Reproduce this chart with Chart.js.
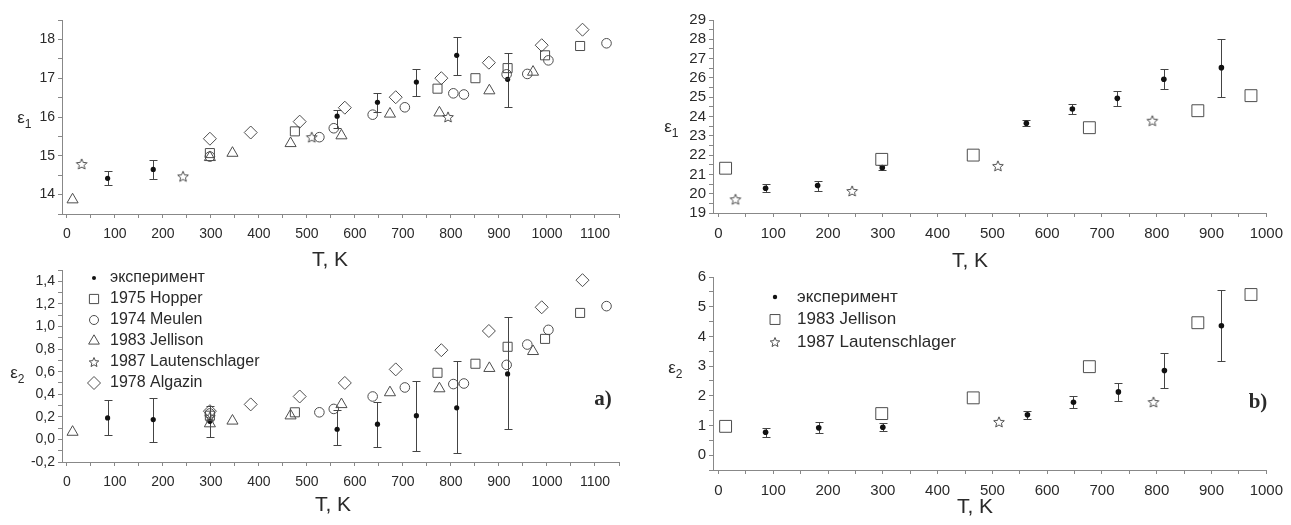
<!DOCTYPE html>
<html>
<head>
<meta charset="utf-8">
<script src="https://cdn.jsdelivr.net/npm/chart.js@4.4.1/dist/chart.umd.min.js"></script>
<style>
  html, body { margin: 0; padding: 0; background: #fff; width: 1291px; height: 525px; overflow: hidden; }
  canvas { position: absolute; }
</style>
</head>
<body>
<canvas id="a1" width="645" height="275" style="left:0;top:0"></canvas>
<canvas id="a2" width="645" height="275" style="left:0;top:250px"></canvas>
<canvas id="b1" width="646" height="275" style="left:645px;top:0"></canvas>
<canvas id="b2" width="646" height="275" style="left:645px;top:250px"></canvas>
<script>
// ---------- panel a) ----------
const aExpT1 = [85, 180, 563, 647, 728, 812, 918];
const aExpEps1 = [14.42, 14.65, 16.02, 16.38, 16.9, 17.59, 16.97];
const aExpEps1Lo = [14.25, 14.4, 15.72, 16.12, 16.54, 17.07, 16.27];
const aExpEps1Hi = [14.6, 14.9, 16.19, 16.62, 17.24, 18.06, 17.66];
const aExpT2 = [85, 180, 298, 563, 647, 728, 812, 918];
const aExpEps2 = [0.19, 0.176, 0.16, 0.09, 0.135, 0.21, 0.28, 0.58];
const aExpEps2Lo = [0.035, -0.02, 0.02, -0.05, -0.07, -0.1, -0.12, 0.09];
const aExpEps2Hi = [0.35, 0.367, 0.3, 0.26, 0.33, 0.515, 0.69, 1.08];

const hopperT = [298, 475, 772, 851, 918, 996, 1069];
const hopperEps1 = [15.07, 15.63, 16.73, 17.0, 17.26, 17.59, 17.83];
const hopperEps2 = [0.21, 0.24, 0.59, 0.67, 0.82, 0.89, 1.12];

const meulenT = [298, 526, 556, 637, 704, 805, 827, 916, 959, 1003, 1124];
const meulenEps1 = [14.98, 15.48, 15.71, 16.06, 16.25, 16.61, 16.58, 17.1, 17.11, 17.46, 17.9];
const meulenEps2 = [0.23, 0.24, 0.27, 0.38, 0.46, 0.49, 0.495, 0.66, 0.84, 0.97, 1.18];

const jellisonAT = [12, 298, 345, 466, 572, 673, 776, 880, 971];
const jellisonAEps1 = [13.87, 14.96, 15.07, 15.32, 15.52, 16.08, 16.11, 16.68, 17.16];
const jellisonAEps2 = [0.065, 0.14, 0.164, 0.21, 0.31, 0.415, 0.45, 0.63, 0.78];

const lautAT1 = [31, 242, 510, 794];
const lautAEps1 = [14.79, 14.47, 15.48, 16.0];
const lautAT2 = [298];
const lautAEps2 = [0.2];

const algazinT = [298, 383, 485, 579, 685, 780, 879, 989, 1074];
const algazinEps1 = [15.44, 15.6, 15.88, 16.24, 16.51, 17.0, 17.4, 17.85, 18.25];
const algazinEps2 = [0.25, 0.31, 0.38, 0.5, 0.62, 0.79, 0.96, 1.17, 1.41];

// ---------- panel b) ----------
const bExpT1 = [86, 181, 299, 562, 646, 728, 813, 918];
const bExpEps1 = [20.28, 20.42, 21.35, 23.65, 24.39, 24.94, 25.93, 26.53];
const bExpEps1Lo = [20.08, 20.14, 21.22, 23.5, 24.11, 24.56, 25.41, 25.03];
const bExpEps1Hi = [20.48, 20.67, 21.48, 23.8, 24.65, 25.32, 26.45, 28.0];
const bExpT2 = [86, 183, 300, 564, 648, 730, 814, 918];
const bExpEps2 = [0.77, 0.92, 0.94, 1.36, 1.78, 2.13, 2.85, 4.36];
const bExpEps2Lo = [0.6, 0.74, 0.82, 1.22, 1.6, 1.82, 2.25, 3.17];
const bExpEps2Hi = [0.92, 1.1, 1.08, 1.5, 2.0, 2.43, 3.43, 5.55];

const jellisonBT = [13, 298, 465, 677, 875, 972];
const jellisonBEps1 = [21.32, 21.78, 22.0, 23.42, 24.3, 25.08];
const jellisonBEps2 = [0.97, 1.4, 1.93, 2.98, 4.46, 5.41];

const lautBT1 = [31, 244, 510, 792];
const lautBEps1 = [19.71, 20.14, 21.44, 23.78];
const lautBT2 = [512, 794];
const lautBEps2 = [1.12, 1.79];

// ---------- ticks ----------
const xTicksA = [0, 50, 100, 150, 200, 250, 300, 350, 400, 450, 500, 550, 600, 650, 700, 750, 800, 850, 900, 950, 1000, 1050, 1100, 1150];
const xTicksB = [0, 50, 100, 150, 200, 250, 300, 350, 400, 450, 500, 550, 600, 650, 700, 750, 800, 850, 900, 950, 1000];
const yTicksA1 = [13.5, 14, 14.5, 15, 15.5, 16, 16.5, 17, 17.5, 18, 18.5];
const yTicksA2 = [-0.2, -0.1, 0, 0.1, 0.2, 0.3, 0.4, 0.5, 0.6, 0.7, 0.8, 0.9, 1.0, 1.1, 1.2, 1.3, 1.4, 1.5];
const yTicksB1 = [19, 19.5, 20, 20.5, 21, 21.5, 22, 22.5, 23, 23.5, 24, 24.5, 25, 25.5, 26, 26.5, 27, 27.5, 28, 28.5, 29];
const yTicksB2 = [-0.5, 0, 0.5, 1, 1.5, 2, 2.5, 3, 3.5, 4, 4.5, 5, 5.5, 6];

const MARK = '#4d4d4d';
const TXT = '#2a2a2a';
const SANS = '"Liberation Sans", Arial, sans-serif';

function makeStar(r) {
  const s = Math.ceil(2 * r + 4);
  const c = document.createElement('canvas');
  c.width = c.height = s;
  const g = c.getContext('2d');
  g.strokeStyle = MARK;
  g.lineWidth = 1;
  g.beginPath();
  for (let i = 0; i < 10; i++) {
    const rr = i % 2 ? r * 0.45 : r;
    const a = -Math.PI / 2 + i * Math.PI / 5;
    g.lineTo(s / 2 + rr * Math.cos(a), s / 2 + 0.5 + rr * Math.sin(a));
  }
  g.closePath();
  g.stroke();
  return c;
}

// legend symbol (same shapes as the chart's point styles)
function drawSym(ctx, style, x, y, r) {
  if (typeof style !== 'string') {
    ctx.drawImage(style, Math.round(x - style.width / 2), Math.round(y - style.height / 2));
    return;
  }
  ctx.beginPath();
  if (style === 'circle') ctx.arc(x, y, r, 0, 2 * Math.PI);
  else if (style === 'rect') { const s = r * Math.SQRT1_2; ctx.rect(x - s, y - s, 2 * s, 2 * s); }
  else if (style === 'rectRot') { ctx.moveTo(x, y - r); ctx.lineTo(x + r, y); ctx.lineTo(x, y + r); ctx.lineTo(x - r, y); ctx.closePath(); }
  else if (style === 'triangle') { ctx.moveTo(x, y - r); ctx.lineTo(x + r * 0.866, y + r * 0.5); ctx.lineTo(x - r * 0.866, y + r * 0.5); ctx.closePath(); }
  ctx.stroke();
}

function pts(xs, ys) { return xs.map((x, i) => ({ x: x, y: ys[i] })); }

function openSet(label, xs, ys, style, r) {
  return { label, data: pts(xs, ys), pointStyle: style, pointRadius: r,
    borderColor: MARK, backgroundColor: 'rgba(0,0,0,0)', pointBorderWidth: 1, showLine: false };
}
function expSet(xs, ys, lo, hi, r) {
  return { label: 'эксперимент', data: pts(xs, ys), pointStyle: 'circle', pointRadius: r,
    borderColor: '#111', backgroundColor: '#111', pointBorderWidth: 0, showLine: false, errLo: lo, errHi: hi };
}

// per-canvas extras, kept outside chart options so Chart.js does not proxy them
const extras = {};

const decor = {
  id: 'decor',
  beforeDatasetsDraw(chart) {
    const ctx = chart.ctx, xs = chart.scales.x, ys = chart.scales.y;
    ctx.save();
    ctx.strokeStyle = '#444';
    ctx.lineWidth = 1;
    chart.data.datasets.forEach(ds => {
      if (!ds.errLo) return;
      ds.data.forEach((p, i) => {
        const x = Math.round(xs.getPixelForValue(p.x)) + 0.5;
        const y1 = Math.round(ys.getPixelForValue(ds.errLo[i])) + 0.5;
        const y2 = Math.round(ys.getPixelForValue(ds.errHi[i])) + 0.5;
        ctx.beginPath();
        ctx.moveTo(x, y1); ctx.lineTo(x, y2);
        ctx.moveTo(x - 4, y1); ctx.lineTo(x + 4, y1);
        ctx.moveTo(x - 4, y2); ctx.lineTo(x + 4, y2);
        ctx.stroke();
      });
    });
    ctx.restore();
  },
  afterDraw(chart) {
    const o = extras[chart.canvas.id];
    const ctx = chart.ctx;
    ctx.save();
    ctx.fillStyle = TXT;
    ctx.textBaseline = 'middle';
    ctx.textAlign = 'center';
    ctx.font = '17px ' + SANS;
    ctx.fillText('ε', o.yName[0], o.yName[1]);
    ctx.font = '12px ' + SANS;
    ctx.fillText(o.ySub, o.yName[0] + 7, o.yName[1] + 7);
    ctx.font = '21px ' + SANS;
    ctx.fillText('T, K', o.xName[0], o.xName[1]);
    if (o.tag) {
      ctx.font = 'bold 21px "Liberation Serif", "Times New Roman", serif';
      ctx.fillText(o.tag, o.tagPos[0], o.tagPos[1]);
    }
    if (o.legend) {
      const L = o.legend;
      ctx.textAlign = 'left';
      ctx.font = L.size + 'px ' + SANS;
      ctx.lineWidth = 1;
      L.rows.forEach((row, i) => {
        const y = L.y + i * L.dy;
        if (row.fill) {
          ctx.fillStyle = '#111';
          ctx.beginPath(); ctx.arc(L.x, y, row.r, 0, Math.PI * 2); ctx.fill();
        } else {
          ctx.strokeStyle = MARK;
          drawSym(ctx, row.style, L.x, y, row.r);
        }
        ctx.fillStyle = TXT;
        ctx.fillText(row.text, L.tx, y);
      });
    }
    ctx.restore();
  }
};

function scale(min, max, ticks, fmt, size, pad, fixed, isX) {
  return {
    type: 'linear', min, max,
    afterBuildTicks: s => { s.ticks = ticks.map(v => ({ value: v })); },
    afterFit: s => { if (isX) s.height = fixed; else s.width = fixed; },
    border: { color: '#888', width: 1 },
    grid: { drawOnChartArea: false, color: '#888', tickLength: 4 },
    ticks: { autoSkip: false, maxRotation: 0, color: TXT, padding: pad,
      font: { family: SANS, size: size }, callback: fmt }
  };
}

const intLabel = v => (Math.abs(v - Math.round(v)) < 1e-6 ? String(Math.round(v)) : '');
const hundredLabel = v => (v % 100 === 0 ? String(v) : '');
const commaLabel = v => (Math.round(v * 10) % 2 === 0 ? v.toFixed(1).replace('.', ',') : '');

function build(id, w, h, area, xs, ys, datasets, font, decorOpts) {
  extras[id] = decorOpts;
  new Chart(document.getElementById(id), {
    type: 'scatter',
    data: { datasets },
    options: {
      responsive: false, animation: false, devicePixelRatio: 1, events: [],
      layout: { padding: { left: 0, top: area.top, right: w - area.right, bottom: 0 } },
      scales: {
        x: scale(xs[0], xs[1], xs[2], hundredLabel, font, 8, h - area.bottom, true),
        y: scale(ys[0], ys[1], ys[2], ys[3], font, 3, area.left, false)
      },
      plugins: { legend: { display: false }, tooltip: { enabled: false } }
    },
    plugins: [decor]
  });
}

const starA = makeStar(5.6);
const starB = makeStar(5.6);
const starLeg = makeStar(5);

// a) eps1
build('a1', 645, 275, { left: 62, right: 619, top: 20, bottom: 214 },
  [-10, 1150, xTicksA], [13.5, 18.5, yTicksA1, intLabel],
  [
    openSet('1975 Hopper', hopperT, hopperEps1, 'rect', 6.4),
    openSet('1974 Meulen', meulenT, meulenEps1, 'circle', 4.8),
    openSet('1983 Jellison', jellisonAT, jellisonAEps1, 'triangle', 6.4),
    openSet('1987 Lautenschlager', lautAT1, lautAEps1, starA, 6),
    openSet('1978 Algazin', algazinT, algazinEps1, 'rectRot', 6.5),
    expSet(aExpT1, aExpEps1, aExpEps1Lo, aExpEps1Hi, 2.6)
  ], 14, { yName: [21, 118], ySub: '1', xName: [330, 260] });

// a) eps2
build('a2', 645, 275, { left: 62, right: 619, top: 20, bottom: 212 },
  [-10, 1150, xTicksA], [-0.2, 1.5, yTicksA2, commaLabel],
  [
    openSet('1975 Hopper', hopperT, hopperEps2, 'rect', 6.4),
    openSet('1974 Meulen', meulenT, meulenEps2, 'circle', 4.8),
    openSet('1983 Jellison', jellisonAT, jellisonAEps2, 'triangle', 6.4),
    openSet('1987 Lautenschlager', lautAT2, lautAEps2, starA, 6),
    openSet('1978 Algazin', algazinT, algazinEps2, 'rectRot', 6.5),
    expSet(aExpT2, aExpEps2, aExpEps2Lo, aExpEps2Hi, 2.6)
  ], 14, {
    yName: [14, 123], ySub: '2', xName: [333, 255], tag: 'a)', tagPos: [603, 150],
    legend: { x: 94, tx: 110, y: 28, dy: 21, size: 16, rows: [
      { text: 'эксперимент', style: 'circle', r: 2, fill: true },
      { text: '1975 Hopper', style: 'rect', r: 6.5, fill: false },
      { text: '1974 Meulen', style: 'circle', r: 4.5, fill: false },
      { text: '1983 Jellison', style: 'triangle', r: 6.2, fill: false },
      { text: '1987 Lautenschlager', style: starLeg, r: 5, fill: false },
      { text: '1978 Algazin', style: 'rectRot', r: 6.5, fill: false }
    ] }
  });

// b) eps1
build('b1', 646, 275, { left: 68, right: 627, top: 20, bottom: 213 },
  [-10, 1000, xTicksB], [19, 29, yTicksB1, intLabel],
  [
    openSet('1983 Jellison', jellisonBT, jellisonBEps1, 'rect', 8.4),
    openSet('1987 Lautenschlager', lautBT1, lautBEps1, starB, 6),
    expSet(bExpT1, bExpEps1, bExpEps1Lo, bExpEps1Hi, 2.8)
  ], 15, { yName: [23, 127], ySub: '1', xName: [325, 261] });

// b) eps2
build('b2', 646, 275, { left: 68, right: 627, top: 27, bottom: 220 },
  [-10, 1000, xTicksB], [-0.5, 6, yTicksB2, intLabel],
  [
    openSet('1983 Jellison', jellisonBT, jellisonBEps2, 'rect', 8.4),
    openSet('1987 Lautenschlager', lautBT2, lautBEps2, starB, 6),
    expSet(bExpT2, bExpEps2, bExpEps2Lo, bExpEps2Hi, 2.8)
  ], 15, {
    yName: [27, 118], ySub: '2', xName: [330, 257], tag: 'b)', tagPos: [613, 153],
    legend: { x: 130, tx: 152, y: 47, dy: 22.5, size: 17, rows: [
      { text: 'эксперимент', style: 'circle', r: 2.2, fill: true },
      { text: '1983 Jellison', style: 'rect', r: 7, fill: false },
      { text: '1987 Lautenschlager', style: starLeg, r: 5, fill: false }
    ] }
  });
</script>
</body>
</html>
